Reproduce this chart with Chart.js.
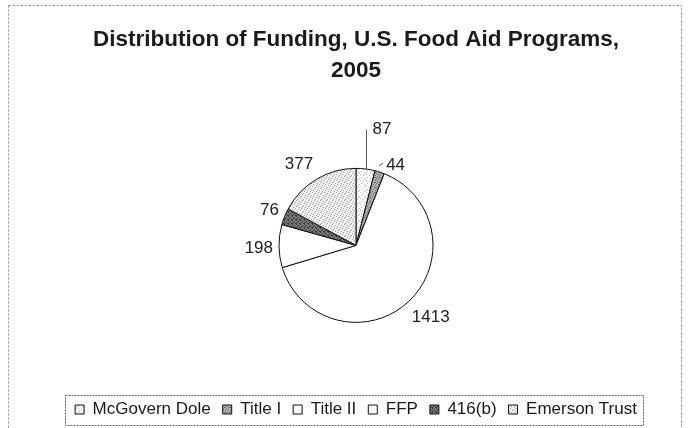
<!DOCTYPE html>
<html>
<head>
  <title>Distribution of Funding, U.S. Food Aid Programs, 2005</title>
  <script src="https://cdn.jsdelivr.net/npm/chart.js"></script>
  <style>
    body { margin: 0; background: #fff; }
    #wrap { width: 688px; height: 428px; }
  </style>
</head>
<body>
<div id="wrap"><canvas id="myChart" width="688" height="428"></canvas></div>
<script>
  // values (millions of dollars)
  const programs = ['McGovern Dole', 'Title I', 'Title II', 'FFP', '416(b)', 'Emerson Trust'];
  const funding = [87, 44, 1413, 198, 76, 377];
  const chartTitle = ['Distribution of Funding, U.S. Food Aid Programs,', '2005'];

  const FONT = '"Liberation Sans", Arial, sans-serif';

  // little stipple fills, like the printed grey patterns
  function dots(bg, fg, size, pts) {
    const c = document.createElement('canvas');
    c.width = size; c.height = size;
    const g = c.getContext('2d');
    g.fillStyle = bg;
    g.fillRect(0, 0, size, size);
    g.fillStyle = fg;
    pts.forEach(p => g.fillRect(p[0], p[1], 1, 1));
    return g.createPattern(c, 'repeat');
  }

  const fills = [
    dots('#fcfcfc', '#bdbdbd', 6, [[0, 0], [3, 1], [5, 4], [1, 3], [4, 5]]),
    dots('#b0b0b0', '#666', 5, [[0, 0], [2, 1], [4, 2], [1, 3], [3, 4], [0, 2]]),
    '#ffffff',
    '#ffffff',
    dots('#7a7a7a', '#333', 4, [[0, 0], [2, 1], [1, 2], [3, 3], [0, 3]]),
    dots('#efefef', '#a0a0a0', 6, [[0, 0], [3, 1], [5, 3], [1, 4], [4, 5], [2, 2]])
  ];

  // outer dotted frame and dashed box round the legend
  const framePlugin = {
    id: 'frame',
    beforeDraw(chart) {
      const ctx = chart.ctx;
      ctx.save();
      ctx.fillStyle = '#fff';
      ctx.fillRect(0, 0, chart.width, chart.height);
      ctx.strokeStyle = '#8a8a8a';
      ctx.lineWidth = 1;
      ctx.setLineDash([2, 2]);
      ctx.strokeRect(8.5, 5.5, 673, 500);
      ctx.restore();
    },
    afterDraw(chart) {
      const boxes = chart.legend.legendHitBoxes;
      if (!boxes || !boxes.length) return;
      const first = boxes[0], last = boxes[boxes.length - 1];
      const ctx = chart.ctx;
      const midY = first.top + first.height / 2;
      ctx.save();
      ctx.strokeStyle = '#666';
      ctx.lineWidth = 1;
      ctx.setLineDash([2, 1]);
      const left = Math.round(first.left - 10) + 0.5;
      const right = Math.round(last.left + last.width + 6) + 0.5;
      ctx.strokeRect(left, Math.round(midY - 15) + 0.5, right - left, 30);
      ctx.restore();
    }
  };

  // value labels outside the slices
  const leaders = { 0: 39 };
  const nudges = { 1: [10, 9], 3: [4, 2], 4: [3, 0], 5: [-5, 0], 2: [3, 3] };
  const labelPlugin = {
    id: 'sliceLabels',
    afterDatasetsDraw(chart) {
      const ctx = chart.ctx;
      const meta = chart.getDatasetMeta(0);
      ctx.save();
      ctx.font = '17px ' + FONT;
      ctx.fillStyle = '#222';
      ctx.textBaseline = 'middle';
      meta.data.forEach((arc, i) => {
        const p = arc.getProps(['x', 'y', 'startAngle', 'endAngle', 'outerRadius'], true);
        const mid = (p.startAngle + p.endAngle) / 2;
        const dx = Math.cos(mid), dy = Math.sin(mid);
        const text = String(funding[i]);
        const w = ctx.measureText(text).width, h = 14;
        ctx.strokeStyle = '#555';
        ctx.lineWidth = 1;
        if (leaders[i]) {
          const ax = p.x + dx * p.outerRadius, ay = p.y + dy * p.outerRadius;
          ctx.beginPath();
          ctx.moveTo(Math.round(ax) + 0.5, ay);
          ctx.lineTo(Math.round(ax) + 0.5, ay - leaders[i]);
          ctx.stroke();
          ctx.textAlign = 'left';
          ctx.fillText(text, ax + 7, ay - leaders[i] - 1);
          return;
        }
        const r = p.outerRadius + 10;
        const n = nudges[i] || [0, 0];
        const tx = p.x + dx * r + dx * w / 2 + n[0];
        const ty = p.y + dy * r + dy * h / 2 + n[1];
        if (i === 1) {
          // short tick next to the thin slice
          ctx.beginPath();
          ctx.moveTo(tx - w / 2 - 7, ty + 1);
          ctx.lineTo(tx - w / 2 - 3, ty - 2);
          ctx.stroke();
        }
        ctx.textAlign = 'center';
        ctx.fillText(text, tx, ty);
      });
      ctx.restore();
    }
  };

  const ctx = document.getElementById('myChart').getContext('2d');
  new Chart(ctx, {
    type: 'pie',
    data: {
      labels: programs,
      datasets: [{
        data: funding,
        backgroundColor: fills,
        borderColor: '#111',
        borderWidth: 1,
        radius: 77
      }]
    },
    options: {
      responsive: false,
      animation: false,
      layout: { padding: { left: 24, right: 0, top: 0, bottom: 0 } },
      plugins: {
        title: {
          display: true,
          text: chartTitle,
          color: '#1a1a1a',
          font: { family: FONT, size: 22.5, weight: 'bold', lineHeight: 1.35 },
          padding: { top: 25, bottom: 16 }
        },
        legend: {
          position: 'bottom',
          labels: {
            color: '#1a1a1a',
            font: { family: FONT, size: 17 },
            boxWidth: 9,
            boxHeight: 9,
            padding: 12
          }
        },
        tooltip: { enabled: false }
      }
    },
    plugins: [framePlugin, labelPlugin]
  });
</script>
</body>
</html>
